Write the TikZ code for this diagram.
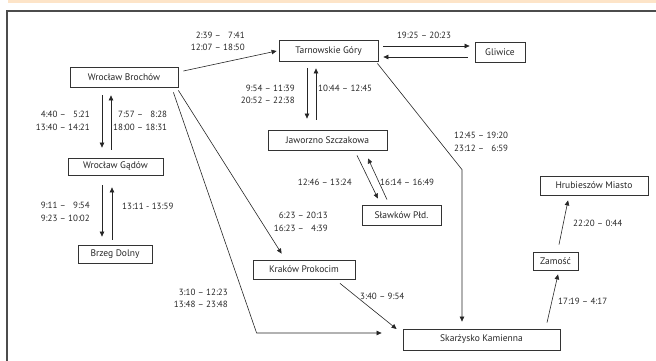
\documentclass[tikz,border=0pt]{standalone}
\usepackage{fontspec}
\setmainfont{PT Sans}
\usetikzlibrary{calc,arrows.meta}
\colorlet{colorBOX}{black!80}
\colorlet{colorLINE}{black!85}
\colorlet{colorTXT}{black!85}
\definecolor{colorBAND}{RGB}{253,228,200}
\tikzset{
   every path/.style={>={Triangle[length=5pt,width=4.5pt]}},
   station/.style={draw=colorBOX,line width=0.8pt,rectangle,inner sep=0pt,minimum height=20pt,
      font=\fontsize{9.5}{11}\selectfont,text=colorTXT},
   train/.style={->,color=colorLINE,line width=0.6pt},
   hrs/.style={inner sep=0pt,font=\fontsize{9}{12.5}\selectfont,text=colorTXT},
   frame/.style={draw=black!70,line width=1.3pt},
}
\newcommand{\hours}[1]{\begin{tabular}{@{}r@{\ --\ }r@{}}#1\end{tabular}}

\begin{document}
\begin{tikzpicture}[x=1pt,y=-1pt]
    \useasboundingbox (0,0) rectangle (656,361);
    \fill[colorBAND] (8,0) rectangle (656,3.5);
    \draw[frame] (7,361) -- (7,11) -- (656,11);

    % stations
    \node[station,minimum width=108pt] (broch) at (124,77) {Wrocław Brochów};
    \node[station,minimum width=99pt,minimum height=21pt] (tarn) at (328.5,51) {Tarnowskie Góry};
    \node[station,minimum width=50pt] (gliw) at (500,52) {Gliwice};
    \node[station,minimum width=119pt] (jaw) at (327.5,140) {Jaworzno Szczakowa};
    \node[station,minimum width=79pt] (slaw) at (401.5,215) {Sławków Płd.};
    \node[station,minimum width=95pt,minimum height=17pt] (gadow) at (115.5,166.5) {Wrocław Gądów};
    \node[station,minimum width=74pt,minimum height=18pt] (brzeg) at (115,254) {Brzeg Dolny};
    \node[station,minimum width=102pt,minimum height=19pt] (krak) at (304,269.5) {Kraków Prokocim};
    \node[station,minimum width=157pt,minimum height=21pt] (skar) at (481.5,339.5) {Skarżysko Kamienna};
    \node[station,minimum width=45pt,minimum height=18pt] (zam) at (555.5,261) {Zamość};
    \node[station,minimum width=108pt,minimum height=19pt] (hrub) at (594,185.5) {Hrubieszów Miasto};

    % connections
    \draw[train] ($(broch.east)+(5,-6)$) -- ($(tarn.west)+(-2,0)$);
    \draw[train] ($(tarn.east)+(5,-5)$) -- ($(gliw.west)+(-5,-6)$);
    \draw[train] ($(gliw.west)+(-7,5)$) -- ($(tarn.east)+(5,6)$);
    \draw[train] ($(broch.south)+(-22,8)$) -- ($(gadow.north)+(-13.5,-10)$);
    \draw[train] ($(gadow.north)+(-4.5,-8)$) -- ($(broch.south)+(-13,8)$);
    \draw[train] ($(gadow.south)+(-13.5,10)$) -- ($(brzeg.north)+(-13,-8)$);
    \draw[train] ($(brzeg.north)+(-3,-5)$) -- ($(gadow.south)+(-3.5,12)$);
    \draw[train] ($(broch.south east)+(0,3)$) -- ($(krak.north west)+(29,-6)$);
    \coordinate (bendskar) at ($(skar.west)+(-146,-6.5)$);
    \draw[train] ($(broch.south east)+(-5,5)$) -- (bendskar) -- ($(skar.west)+(-21,-6.5)$);
    \draw[train] ($(tarn.south)+(-21.5,6)$) -- ($(jaw.north)+(-20.5,-11)$);
    \draw[train] ($(jaw.north)+(-11.5,-10)$) -- ($(tarn.south)+(-12.5,6.5)$);
    \coordinate (bendtarn) at ($(skar.north)+(-19.5,-159)$);
    \draw[train] ($(tarn.south east)+(-1,1.5)$) -- (bendtarn) -- ($(skar.north)+(-19.5,-7)$);
    \draw[train] ($(jaw.south)+(29.5,5)$) -- ($(slaw.north)+(-23.5,-6)$);
    \draw[train] ($(slaw.north)+(-14.5,-5)$) -- ($(jaw.south)+(40.5,8)$);
    \draw[train] ($(krak.south)+(36,4)$) -- ($(skar.west)+(-6,-10.5)$);
    \draw[train] ($(skar.north)+(65.5,-6)$) -- ($(zam.south)+(2.5,4)$);
    \draw[train] ($(zam.north)+(3.5,-7)$) -- ($(hrub.south)+(-26,5)$);

    % timetables
    \node[hrs,anchor=east] (tbrochtarn) at (245,42) {\hours{2:39 & 7:41\\12:07 & 18:50}};
    \node[hrs] (ttarngliw) at (424,35) {19:25 -- 20:23};
    \node[hrs,anchor=east] (tbrochgad) at (90,121.5) {\hours{4:40 & 5:21\\13:40 & 14:21}};
    \node[hrs,anchor=west] (tgadbroch) at (113,121.5) {\hours{7:57 & 8:28\\18:00 & 18:31}};
    \node[hrs,anchor=east] (tgadbrzeg) at (90,212.5) {\hours{9:11 & 9:54\\9:23 & 10:02}};
    \node[hrs,anchor=west] (tbrzeggad) at (122,206) {13:11 - 13:59};
    \node[hrs,anchor=east] (ttarnjaw) at (295,95) {\hours{9:54 & 11:39\\20:52 & 22:38}};
    \node[hrs,anchor=west] (tjawtarn) at (318,88) {10:44 -- 12:45};
    \node[hrs,anchor=west] (ttarnskar) at (454,142.5) {\hours{12:45 & 19:20\\23:12 & 6:59}};
    \node[hrs,anchor=east] (tjawslaw) at (352,182) {12:46 -- 13:24};
    \node[hrs,anchor=west] (tslawjaw) at (380,182) {16:14 -- 16:49};
    \node[hrs,anchor=east] (tbrochkrak) at (328,222.5) {\hours{6:23 & 20:13\\16:23 & 4:39}};
    \node[hrs,anchor=east] (tbrochskar) at (228,299) {\hours{3:10 & 12:23\\13:48 & 23:48}};
    \node[hrs,anchor=west] (tkrakskar) at (360,296) {3:40 -- 9:54};
    \node[hrs,anchor=west] (tskarzam) at (558,301) {17:19 -- 4:17};
    \node[hrs,anchor=west] (tzamhrub) at (573,223) {22:20 -- 0:44};
\end{tikzpicture}
\end{document}
